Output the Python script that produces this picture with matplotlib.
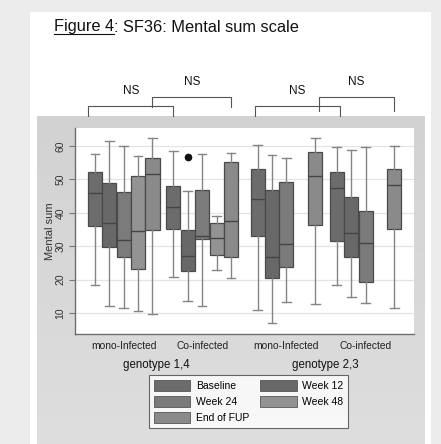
import matplotlib
matplotlib.use("Agg")
import matplotlib.pyplot as plt
import numpy as np
from matplotlib.patches import Patch, Rectangle
from matplotlib.lines import Line2D
from matplotlib.transforms import blended_transform_factory

plt.rcParams["font.family"] = ["Liberation Sans", "DejaVu Sans"]

# ---- data ----
series = ["Baseline", "Week 12", "Week 24", "Week 48", "End of FUP"]
groups = ["mono-Infected", "Co-infected", "mono-Infected", "Co-infected"]
genotypes = ["genotype 1,4", "genotype 2,3"]

# rows = series, columns = groups (None = no box)
whisker_low = [
    [18.5, 20.8, 10.9, 18.5],
    [12.2, 13.7, 7.0, 14.9],
    [11.6, 12.1, 13.3, 13.0],
    [10.6, 22.8, None, None],
    [9.6, 20.6, 12.6, 11.6],
]
q1 = [
    [36.1, 35.2, 33.1, 31.6],
    [29.9, 22.6, 20.4, 26.9],
    [26.9, 32.1, 23.7, 19.4],
    [23.1, 27.4, None, None],
    [34.9, 26.9, 36.4, 35.2],
]
median = [
    [45.8, 41.6, 44.2, 47.3],
    [36.9, 27.1, 26.8, 34.0],
    [31.9, 33.1, 30.6, 31.0],
    [34.6, 32.6, None, None],
    [51.6, 37.5, 51.0, 48.2],
]
q3 = [
    [52.1, 47.9, 53.0, 52.1],
    [48.8, 34.9, 46.7, 44.7],
    [46.1, 46.9, 49.1, 40.4],
    [51.0, 36.9, None, None],
    [56.3, 55.2, 58.2, 53.0],
]
whisker_high = [
    [57.5, 58.5, 60.3, 59.6],
    [61.6, 46.6, 57.3, 58.9],
    [60.0, 57.5, 56.4, 59.6],
    [57.0, 39.0, None, None],
    [62.3, 58.0, 62.3, 60.0],
]
outliers = [
    [[], [], [], []],
    [[], [56.8], [], []],
    [[], [], [], []],
    [[], [], [], []],
    [[], [], [], []],
]
comparisons = ["NS", "NS", "NS", "NS"]

# ---- layout ----
W, H = 441, 444
colors = ["#6c6c6c", "#686868", "#7b7b7b", "#939393", "#8a8a8a"]
group_start = [0.0, 5.45, 11.3, 16.8]


def fx(px):
    return px / W


def fy(py):
    return 1 - py / H


fig = plt.figure(figsize=(W / 100, H / 100), dpi=100)
fig.patch.set_facecolor("#ececec")
fig.patches.append(Rectangle((fx(30), 0), fx(401), 1 - 12 / H, transform=fig.transFigure,
                             facecolor="white", edgecolor="none", zorder=-10))

# gray chart area with a soft vertical gradient
bg = fig.add_axes([fx(37), 0, fx(388), (H - 116) / H])
grad = np.linspace(0, 1, 256).reshape(-1, 1)
bg.imshow(grad, aspect="auto", cmap=matplotlib.colors.LinearSegmentedColormap.from_list(
    "g", ["#d2d2d2", "#dedede"]), extent=[0, 1, 0, 1])
bg.axis("off")

ax = fig.add_axes([fx(75), fy(334), fx(414 - 75), (334 - 128) / H])
ax.set_facecolor("white")

stats = []
positions = []
box_colors = []
for s in range(len(series)):
    for g in range(len(groups)):
        if median[s][g] is None:
            continue
        stats.append(dict(med=median[s][g], q1=q1[s][g], q3=q3[s][g],
                          whislo=whisker_low[s][g], whishi=whisker_high[s][g],
                          fliers=outliers[s][g]))
        positions.append(group_start[g] + s)
        box_colors.append(colors[s])

bp = ax.bxp(stats, positions=positions, widths=0.98, patch_artist=True,
            boxprops=dict(edgecolor="#4a4a4a", linewidth=0.9),
            medianprops=dict(color="#444444", linewidth=1.0),
            whiskerprops=dict(color="#858585", linewidth=1.0),
            capprops=dict(color="#858585", linewidth=1.0),
            flierprops=dict(marker="o", markerfacecolor="#111111", markeredgecolor="#111111",
                            markersize=4.5))
for patch, c in zip(bp["boxes"], box_colors):
    patch.set_facecolor(c)
for cap in bp["caps"]:
    x = cap.get_xdata()
    mid = (x[0] + x[1]) / 2
    cap.set_xdata([mid - 0.3, mid + 0.3])

ax.set_xlim(-1.38, 22.16)
ax.set_ylim(3.7, 65.4)
ax.set_yticks([10, 20, 30, 40, 50, 60])
ax.set_yticklabels(["10", "20", "30", "40", "50", "60"], rotation=90, va="center",
                   fontsize=7.5, color="#333333")
ax.yaxis.grid(True, color="#e4e4e4", linewidth=0.9)
ax.set_axisbelow(True)
ax.tick_params(axis="y", length=4, width=0.8, color="#777777", pad=3)
ax.set_xticks([g + 2 for g in group_start])
ax.set_xticklabels(groups, fontsize=7.4, color="#222222")
ax.tick_params(axis="x", length=0, pad=5)
ax.set_ylabel("Mental sum", fontsize=8, color="#333333", labelpad=0)
for side in ["top", "right"]:
    ax.spines[side].set_visible(False)
for side in ["left", "bottom"]:
    ax.spines[side].set_color("#6e6e6e")
    ax.spines[side].set_linewidth(1.0)

# genotype labels
trans = blended_transform_factory(ax.transData, fig.transFigure)
for label, xpos in zip(genotypes, [4.3, 16.0]):
    fig.text(xpos, fy(365), label, transform=trans, ha="center", va="center",
             fontsize=8.3, color="#111111")

# significance brackets: (x0, x1, top_y_px, leg_bottom_px)
brackets = [(-0.45, 5.45, 106, 116), (4.0, 9.45, 96.7, 106.7),
            (11.15, 17.0, 106, 116), (15.55, 20.8, 96.7, 111)]
for (x0, x1, ytop, ybot), lab in zip(brackets, comparisons):
    fig.add_artist(Line2D([x0, x0, x1, x1], [fy(ybot), fy(ytop), fy(ytop), fy(ybot)],
                          transform=trans, color="#555555", linewidth=0.8))
    fig.text((x0 + x1) / 2, fy(ytop - 15), lab, transform=trans, ha="center",
             va="center", fontsize=8.5, color="#111111")

# legend (row-wise order like the original)
handles = [Patch(facecolor=c, edgecolor="#555555", linewidth=0.6) for c in colors]
order = [0, 2, 4, 1, 3]
leg = fig.legend([handles[i] for i in order], [series[i] for i in order], ncol=2,
                 loc="upper left", bbox_to_anchor=(fx(149.3), fy(375)),
                 fontsize=7.5, frameon=True, fancybox=False, edgecolor="#444444",
                 handlelength=3.5, handleheight=1.25, labelspacing=0.5,
                 columnspacing=1.1, handletextpad=0.5, borderpad=0.45, borderaxespad=0)
leg.get_frame().set_linewidth(0.8)
leg.get_frame().set_facecolor("white")

# title with underlined "Figure 4"
t1 = fig.text(fx(54), fy(27), "Figure 4", ha="left", va="center", fontsize=11.8,
              color="#111111")
fig.canvas.draw()
bb = t1.get_window_extent()
fig.text(bb.x1 / W, fy(27), ": SF36: Mental sum scale", ha="left", va="center",
         fontsize=11.8, color="#111111")
fig.add_artist(Line2D([bb.x0 / W, bb.x1 / W], [fy(34.5), fy(34.5)],
                      transform=fig.transFigure, color="#111111", linewidth=0.8))

fig.savefig("out.png", dpi=100, facecolor=fig.get_facecolor())
